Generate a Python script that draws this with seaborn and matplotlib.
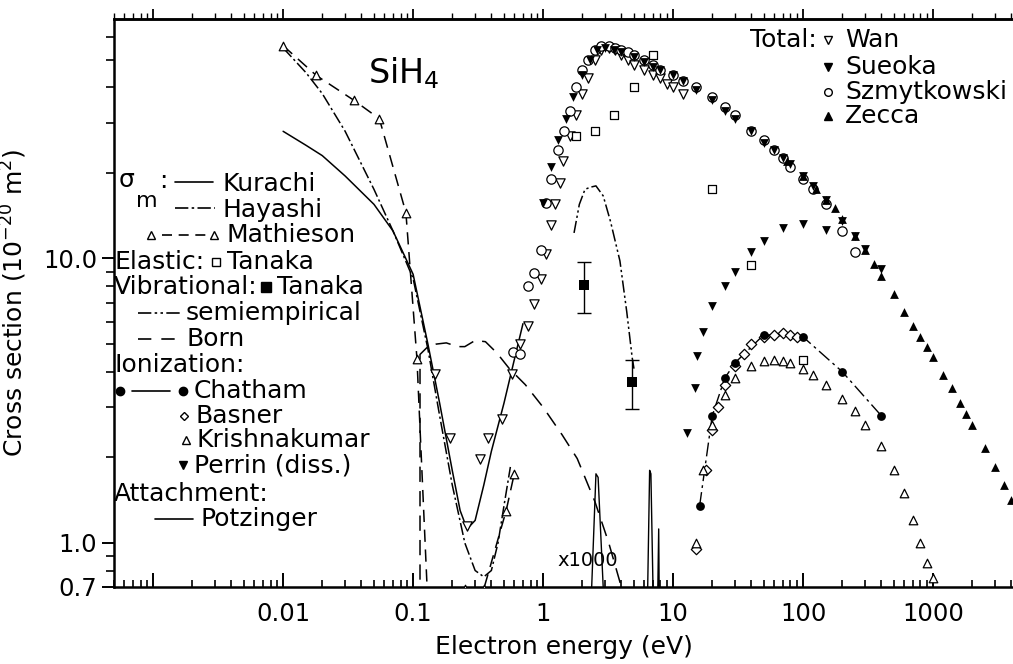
import numpy as np
import pandas as pd
import matplotlib
matplotlib.use("Agg")
import matplotlib.pyplot as plt
import seaborn as sns

# ---------------- data (energy eV, cross section 1e-20 m^2) ----------------
kurachi_E = [0.01, 0.015, 0.02, 0.03, 0.05, 0.07, 0.1, 0.13, 0.16, 0.2, 0.23, 0.26, 0.3, 0.35, 0.4, 0.5, 0.6, 0.7]
kurachi_s = [28, 25, 23, 19.5, 15.5, 12.5, 8.8, 5.0, 3.1, 1.8, 1.3, 1.12, 1.2, 1.6, 2.1, 3.1, 4.4, 5.9]

hayashi_E = [0.01, 0.015, 0.02, 0.03, 0.05, 0.07, 0.1, 0.13, 0.16, 0.2, 0.25, 0.3, 0.35, 0.4, 0.45, 0.5, 0.56]
hayashi_s = [55, 45, 38, 28, 17.5, 12.5, 8.5, 4.8, 2.8, 1.6, 1.0, 0.8, 0.76, 0.8, 1.0, 1.35, 1.85]

mathieson_E = [0.01, 0.018, 0.035, 0.055, 0.088, 0.107, 0.13, 0.25, 0.35, 0.52, 0.6]
mathieson_s = [56, 44, 36, 31, 14.5, 4.45, 0.6, 0.69, 0.69, 1.3, 1.75]

born_E = [0.113, 0.113, 0.13, 0.15, 0.18, 0.22, 0.25, 0.3, 0.36, 0.44, 0.55, 0.73, 1.0, 1.4, 1.83, 2.5, 3.2, 4.0]
born_s = [0.5, 4.6, 4.9, 5.0, 5.05, 4.9, 4.9, 5.15, 5.1, 4.66, 4.1, 3.6, 3.0, 2.4, 1.98, 1.4, 1.0, 0.7]

semi_E = [1.73, 1.9, 2.1, 2.3, 2.55, 2.9, 3.3, 3.9, 4.4, 4.84, 5.0]
semi_s = [12.3, 15.5, 17.5, 17.8, 18.0, 16.6, 13.5, 9.8, 6.5, 4.5, 4.1]

vib_E = [2.07, 4.84]
vib_s = [8.1, 3.69]
vib_lo = [6.45, 2.96]
vib_hi = [9.7, 4.4]

potz_E = [2.3, 2.55, 2.65, 3.0, np.nan, 6.3, 6.6, 6.75, 7.1, np.nan, 7.55, 7.75, 7.85]
potz_s = [0.5, 1.75, 1.7, 0.5, np.nan, 0.5, 1.8, 1.75, 0.5, np.nan, 0.5, 1.12, 0.5]

wan_E = [0.148, 0.193, 0.26, 0.328, 0.377, 0.484, 0.577, 0.665, 0.767, 0.853, 0.96, 1.05, 1.15, 1.24, 1.35,
         1.43, 1.6, 1.8, 2.0, 2.2, 2.5, 2.8, 3.2, 3.6, 4.0, 4.5, 5.0, 6.0, 7.0, 8.0, 9.0, 10.0, 12.0]
wan_s = [3.94, 2.34, 1.15, 1.98, 2.34, 2.73, 3.94, 5.0, 5.8, 6.9, 8.5, 10.4, 13.1, 15.5, 18.4,
         22, 27, 32, 38, 43, 50, 54, 55, 54, 52, 50, 48, 46, 44, 43, 41, 40, 38]

sueoka_E = [1.0, 1.15, 1.3, 1.5, 1.7, 2.0, 2.3, 2.6, 3.0, 3.5, 4, 5, 6, 7, 8, 10, 12, 15, 20, 25, 30, 40,
            50, 60, 70, 80, 100, 120, 150, 200, 250, 300, 400]
sueoka_s = [15.7, 21, 26, 31, 37, 44, 50, 54, 55, 54, 53, 51, 49, 47, 46, 44, 42, 39, 36, 33, 31, 28,
            25.5, 24, 22.5, 21.5, 19.5, 18, 16, 13.5, 12, 10.8, 9.2]

szmyt_E = [0.59, 0.665, 0.77, 0.85, 0.96, 1.05, 1.15, 1.3, 1.45, 1.6, 1.8, 2.0, 2.2, 2.5, 2.8, 3.2, 3.6, 4, 4.5,
           5, 6, 7, 8, 10, 12, 15, 20, 25, 30, 40, 50, 60, 70, 80, 100, 120, 150, 200, 250]
szmyt_s = [4.7, 4.6, 8.0, 8.9, 10.7, 15.7, 19, 24, 28, 33, 40, 46, 50, 54, 56, 56, 55, 54, 53,
           52, 50, 48, 46, 44, 42, 40, 37, 34, 32, 28, 26, 24, 22.5, 21, 19, 17.5, 15.5, 12.5, 10.5]

zecca_E = [75, 100, 125, 150, 175, 200, 250, 300, 350, 400, 500, 600, 700, 800, 900, 1000, 1200, 1400,
           1600, 1800, 2000, 2500, 3000, 3500, 4000]
zecca_s = [22, 19.5, 17.5, 16, 15, 13.8, 12, 10.7, 9.6, 8.7, 7.5, 6.5, 5.8, 5.3, 4.9, 4.5, 3.9, 3.5,
           3.1, 2.85, 2.6, 2.15, 1.85, 1.6, 1.42]

tanaka_E = [1.8, 2.5, 3.5, 5, 7, 20, 40, 100]
tanaka_s = [27, 28, 32, 40, 52, 17.5, 9.5, 4.4]

chatham_E = [16, 20, 25, 30, 50, 100, 200, 400]
chatham_s = [1.35, 2.8, 3.8, 4.3, 5.4, 5.3, 4.0, 2.8]

basner_E = [15, 18, 20, 22, 25, 30, 35, 40, 50, 60, 70, 80, 90]
basner_s = [0.95, 1.8, 2.5, 3.0, 3.6, 4.2, 4.6, 5.0, 5.3, 5.4, 5.45, 5.4, 5.3]

krishna_E = [15, 17, 20, 25, 30, 40, 50, 60, 70, 80, 100, 120, 150, 200, 250, 300, 400, 500, 600, 700,
             800, 900, 1000]
krishna_s = [1.0, 1.8, 2.6, 3.3, 3.8, 4.2, 4.35, 4.4, 4.35, 4.3, 4.1, 3.9, 3.6, 3.2, 2.9, 2.6, 2.2, 1.8,
             1.5, 1.2, 1.0, 0.85, 0.75]

perrin_E = [12.8, 14.8, 15.3, 17, 20, 25, 30, 40, 50, 70, 100, 150]
perrin_s = [2.44, 3.5, 4.55, 5.5, 6.8, 8.0, 9.0, 10.5, 11.5, 12.8, 13.2, 12.6]

# ---------------- figure ----------------
sns.set_theme(style="ticks")
plt.rcParams['font.family'] = ['DejaVu Sans']
plt.rcParams['axes.linewidth'] = 1.8
plt.rcParams['text.color'] = 'black'
plt.rcParams['axes.labelcolor'] = 'black'
plt.rcParams['xtick.color'] = 'black'
plt.rcParams['ytick.color'] = 'black'
plt.rcParams['axes.edgecolor'] = 'black'

W, H = 1013, 664
fig = plt.figure(figsize=(W / 100, H / 100), dpi=100)
ax = fig.add_axes([114 / W, 1 - 587 / H, (W - 114) / W, (587 - 19) / H])
ax.set_xscale('log')
ax.set_yscale('log')

def df(E, s):
    return pd.DataFrame({'E': E, 's': s})

def line(E, s, **kw):
    d = df(E, s)
    ax.plot(d['E'], d['s'], color='black', **kw)

def pts(E, s, marker, filled, size=40, z=4):
    d = df(E, s)
    if filled:
        sns.scatterplot(data=d, x='E', y='s', ax=ax, marker=marker, s=size, color='black',
                        linewidth=0, zorder=z)
    else:
        sns.scatterplot(data=d, x='E', y='s', ax=ax, marker=marker, s=size, facecolor='white',
                        edgecolor='black', linewidth=0.9, zorder=z)

# momentum transfer
line(kurachi_E, kurachi_s, lw=1.1)
line(hayashi_E, hayashi_s, lw=1.1, dashes=(8, 2, 1.5, 2))
line(mathieson_E, mathieson_s, lw=1.1, dashes=(8, 5))
pts(mathieson_E, mathieson_s, '^', False, 38, 5)
# vibrational
line(born_E, born_s, lw=1.1, dashes=(10, 6))
line(semi_E, semi_s, lw=1.1, dashes=(8, 2, 1.5, 2, 1.5, 2))
vd = df(vib_E, vib_s)
ax.errorbar(vd['E'], vd['s'], yerr=[np.array(vib_s) - np.array(vib_lo), np.array(vib_hi) - np.array(vib_s)],
            fmt='none', ecolor='black', elinewidth=1.0, capsize=5)
pts(vib_E, vib_s, 's', True, 50, 6)
# attachment x1000
line(potz_E, potz_s, lw=1.0)
ax.text(2.2, 0.87, 'x1000', fontsize=14, ha='center', va='center')

# total
pts(wan_E, wan_s, 'v', False, 45)
pts(szmyt_E, szmyt_s, 'o', False, 45)
pts(sueoka_E, sueoka_s, 'v', True, 40, 5)
pts(zecca_E, zecca_s, '^', True, 40, 5)
# elastic
pts(tanaka_E, tanaka_s, 's', False, 40)
# ionization
line(chatham_E, chatham_s, lw=1.0, dashes=(10, 3, 2, 3))
pts(chatham_E, chatham_s, 'o', True, 40, 5)
pts(basner_E, basner_s, 'D', False, 28)
pts(krishna_E, krishna_s, '^', False, 38)
pts(perrin_E, perrin_s, 'v', True, 40, 5)

# axes
ax.set_xlim(5.0e-4, 4.12e3)
ax.set_ylim(0.7, 69.5)
ax.set_xticks([1e-3, 1e-2, 1e-1, 1, 10, 100, 1000])
ax.set_xticklabels(['', '0.01', '0.1', '1', '10', '100', '1000'])
ax.set_yticks([0.7, 1.0, 10.0])
ax.set_yticklabels(['0.7', '1.0', '10.0'])
ax.yaxis.set_minor_locator(matplotlib.ticker.FixedLocator([0.8, 0.9, 2, 3, 4, 5, 6, 7, 8, 9, 20, 30, 40, 50, 60]))
ax.yaxis.set_minor_formatter(matplotlib.ticker.NullFormatter())
ax.xaxis.set_minor_locator(matplotlib.ticker.LogLocator(base=10, subs=np.arange(2, 10)))
ax.xaxis.set_minor_formatter(matplotlib.ticker.NullFormatter())
ax.tick_params(axis='both', labelsize=17.5, colors='black')
ax.tick_params(axis='y', which='major', direction='out', length=9, width=1.4, pad=3)
ax.tick_params(axis='y', which='minor', direction='out', length=6, width=1.2)
ax.tick_params(axis='x', which='major', direction='in', length=10, width=1.4, pad=11)
ax.tick_params(axis='x', which='minor', direction='in', length=5, width=1.2)
ax.spines['right'].set_visible(False)
ax.spines['top'].set_visible(True)

top = ax.secondary_xaxis('top')
top.set_xticks([1e-3, 1e-2, 1e-1, 1, 10, 100, 1000])
top.xaxis.set_minor_locator(matplotlib.ticker.LogLocator(base=10, subs=np.arange(2, 10)))
top.xaxis.set_minor_formatter(matplotlib.ticker.NullFormatter())
top.tick_params(axis='x', which='major', direction='out', length=7, width=1.3, labeltop=False)
top.tick_params(axis='x', which='minor', direction='out', length=4, width=1.0)
top.spines['top'].set_linewidth(1.8)

ax.set_xlabel('Electron energy (eV)', fontsize=18, labelpad=6)
ax.set_ylabel('Cross section (10$^{-20}$ m$^{2}$)', fontsize=18, labelpad=10)

ax.text(0.045, 45, 'SiH$_4$', fontsize=24, ha='left', va='center')

# --------- in-plot legend text (pixel positions) ---------
def fx(x):
    return x / W

def fy(y):
    return 1 - y / H

FS = 18
tr = fig.transFigure

def txt(x, y, s, fs=FS, **kw):
    fig.text(fx(x), fy(y), s, fontsize=fs, ha='left', va='center', **kw)

def seg(x0, x1, y, **kw):
    ax.plot([fx(x0), fx(x1)], [fy(y), fy(y)], transform=tr, color='black', clip_on=False, lw=1.2, **kw)

def mk(x, y, m, filled, ms=7):
    ax.plot([fx(x)], [fy(y)], transform=tr, marker=m, ms=ms, color='black',
            mfc='black' if filled else 'white', mec='black', mew=1.0, clip_on=False, ls='none')

txt(119, 180, 'σ')
txt(136, 201, 'm', fs=16)
txt(159, 181, ':')
seg(175, 213, 182); txt(222, 184, 'Kurachi')
seg(175, 215, 208, dashes=(8, 2, 1.5, 2)); txt(222, 210, 'Hayashi')
mk(151, 235, '^', False, 5.5); seg(162, 207, 235, dashes=(6, 4)); mk(214, 235, '^', False, 5.5); txt(226, 235, 'Mathieson')
txt(114, 262, 'Elastic:'); mk(216, 262, 's', False, 5.5); txt(227, 262, 'Tanaka')
txt(114, 287, 'Vibrational:'); mk(266, 287, 's', True, 6.5); txt(277, 287, 'Tanaka')
seg(138, 180, 313, dashes=(8, 2, 1.5, 2, 1.5, 2)); txt(186, 313, 'semiempirical')
seg(138, 178, 339, dashes=(8, 6)); txt(186, 339, 'Born')
txt(114, 365, 'Ionization:')
mk(120, 391, 'o', True, 6); seg(132, 170, 391); mk(183, 391, 'o', True, 6); txt(194, 391, 'Chatham')
mk(184, 416, 'D', False, 4.5); txt(195, 416, 'Basner')
mk(186, 440, '^', False, 5.5); txt(196, 440, 'Krishnakumar')
mk(183, 465, 'v', True, 6); txt(194, 465, 'Perrin (diss.)')
txt(114, 494, 'Attachment:')
seg(155, 193, 519); txt(200, 519, 'Potzinger')

# right legend
txt(750, 40, 'Total:')
mk(828, 40, 'v', False, 5.5); txt(845, 40, 'Wan')
mk(828, 67, 'v', True, 6); txt(845, 67, 'Sueoka')
mk(828, 92, 'o', False, 5.5); txt(845, 92, 'Szmytkowski')
mk(828, 116, '^', True, 6); txt(845, 116, 'Zecca')

fig.savefig('out.png', dpi=100)
